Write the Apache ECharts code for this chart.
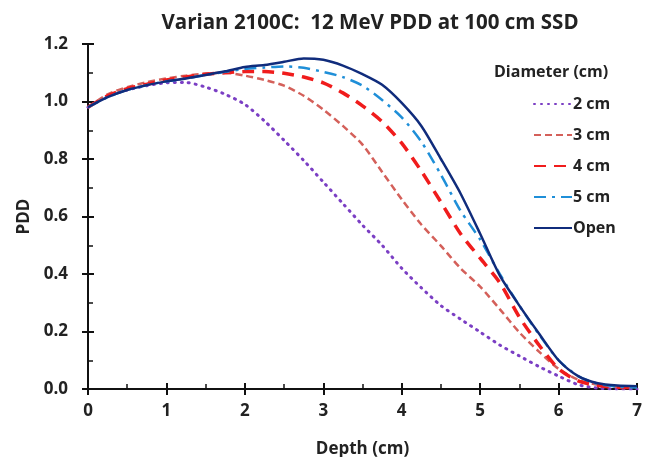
<!DOCTYPE html>
<html><head><meta charset="utf-8">
<script src="https://cdn.jsdelivr.net/npm/echarts@6/dist/echarts.min.js"></script>
<style>html,body{margin:0;padding:0;background:#fff}#c{width:652px;height:457px}</style>
</head><body><div id="c"></div>
<script>
const depth = [0,0.25,0.5,0.75,1,1.25,1.5,1.75,2,2.25,2.5,2.75,3,3.25,3.5,3.75,4,4.25,4.5,4.75,5,5.25,5.5,5.75,6,6.25,6.5,6.75,7];
const d2cm = [0.98,1.02,1.04,1.055,1.065,1.066,1.05,1.025,0.99,0.932,0.865,0.795,0.72,0.645,0.57,0.50,0.42,0.352,0.29,0.243,0.198,0.153,0.115,0.078,0.045,0.015,0.003,0,0];
const d3cm = [0.98,1.025,1.05,1.067,1.08,1.09,1.097,1.10,1.09,1.075,1.055,1.02,0.972,0.915,0.85,0.755,0.66,0.572,0.498,0.42,0.356,0.278,0.197,0.13,0.07,0.032,0.015,0.008,0.005];
const d4cm = [0.98,1.02,1.045,1.06,1.075,1.085,1.095,1.10,1.104,1.104,1.098,1.085,1.065,1.03,0.985,0.93,0.855,0.758,0.65,0.54,0.455,0.37,0.25,0.153,0.07,0.028,0.012,0.006,0.005];
const d5cm = [0.98,1.015,1.04,1.057,1.07,1.08,1.092,1.103,1.113,1.118,1.122,1.117,1.103,1.085,1.055,1.005,0.945,0.86,0.745,0.62,0.52,0.40,0.29,0.19,0.10,0.045,0.018,0.008,0.005];
const dOpen = [0.98,1.015,1.04,1.057,1.07,1.08,1.092,1.105,1.12,1.127,1.138,1.15,1.145,1.125,1.095,1.058,0.995,0.915,0.80,0.68,0.54,0.395,0.29,0.193,0.10,0.045,0.02,0.012,0.01];
const names = ['2 cm','3 cm','4 cm','5 cm','Open'];
const xTicks = [0,1,2,3,4,5,6,7];
const yTicks = [0,0.2,0.4,0.6,0.8,1.0,1.2];

const F = '"Open Sans", Lato, sans-serif';
const pair = a => depth.map((d,i)=>[d,a[i]]);
const styles = [
  {color:'#7b3fc4', width:3, type:[1,6], cap:'round'},
  {color:'#d4605a', width:2.5, type:[7,4], cap:'butt'},
  {color:'#f01c1c', width:3.5, type:[12,8], cap:'butt'},
  {color:'#1f8fd8', width:2.5, type:[12,6,3,6], cap:'butt'},
  {color:'#102c7c', width:2.5, type:'solid', cap:'butt'}
];
const datas = [d2cm,d3cm,d4cm,d5cm,dOpen];
const series = names.map((n,i)=>({
  name:n, type:'line', xAxisIndex:0, yAxisIndex:0, data:pair(datas[i]), smooth:0.25, symbol:'none',
  lineStyle:{color:styles[i].color, width:styles[i].width, type:styles[i].type, cap:styles[i].cap},
  itemStyle:{color:styles[i].color}, z: 2+i
}));
const baseX = {type:'value', min:0, max:7, interval:1, gridIndex:0, position:'bottom'};
const baseY = {type:'value', min:0, max:1.2, interval:0.2, gridIndex:0, position:'left'};
const chart = echarts.init(document.getElementById('c'));
chart.setOption({
  animation:false,
  title:[
    {text:'Varian 2100C:  12 MeV PDD at 100 cm SSD', left:365, textAlign:'center', top:8,
     textStyle:{fontFamily:F, fontWeight:'bold', fontSize:20.5, color:'#222'}},
    {text:'Diameter (cm)', left:489, top:59, textStyle:{fontFamily:F, fontWeight:'bold', fontSize:16, color:'#222'}}
  ],
  legend:{orient:'vertical', left:528, top:91, itemWidth:38, itemHeight:12, itemGap:15,
    data:names, selectedMode:false, itemStyle:{opacity:0},
    textStyle:{fontFamily:F, fontWeight:'bold', fontSize:16, color:'#222', padding:[0,0,0,-4]}},
  grid:{left:88, right:15, top:44, bottom:68, containLabel:false, outerBoundsMode:'none'},
  xAxis:[
    Object.assign({}, baseX, {
      name:'Depth (cm)', nameLocation:'middle', nameGap:52,
      nameTextStyle:{fontFamily:F, fontWeight:'bold', fontSize:17, color:'#222'},
      axisLine:{show:true, lineStyle:{color:'#111', width:2}},
      axisTick:{show:true, inside:true, length:6, lineStyle:{color:'#111', width:2}},
      minorTick:{show:true, splitNumber:2, length:5, lineStyle:{color:'#111', width:1.5}},
      splitLine:{show:false},
      axisLabel:{fontFamily:F, fontWeight:'bold', fontSize:17, color:'#222', margin:14,
        formatter:v=>xTicks.includes(v)?String(v):''}
    }),
    Object.assign({}, baseX, {
      axisLine:{show:false}, axisTick:{show:true, inside:false, length:6, lineStyle:{color:'#111', width:2}},
      axisLabel:{show:false}, splitLine:{show:false}
    })
  ],
  yAxis:[
    Object.assign({}, baseY, {
      name:'PDD', nameLocation:'middle', nameGap:55, nameRotate:90,
      nameTextStyle:{fontFamily:F, fontWeight:'bold', fontSize:17, color:'#222'},
      axisLine:{show:true, lineStyle:{color:'#111', width:2}},
      axisTick:{show:true, inside:true, length:6, lineStyle:{color:'#111', width:2}},
      minorTick:{show:true, splitNumber:2, length:5, lineStyle:{color:'#111', width:1.5}},
      splitLine:{show:false},
      axisLabel:{fontFamily:F, fontWeight:'bold', fontSize:17, color:'#222', margin:20,
        formatter:v=>yTicks.some(t=>Math.abs(t-v)<1e-9)?v.toFixed(1):''}
    }),
    Object.assign({}, baseY, {
      axisLine:{show:false}, axisTick:{show:true, inside:false, length:6, lineStyle:{color:'#111', width:2}},
      axisLabel:{show:false}, splitLine:{show:false}
    })
  ],
  series: series
});
</script></body></html>
